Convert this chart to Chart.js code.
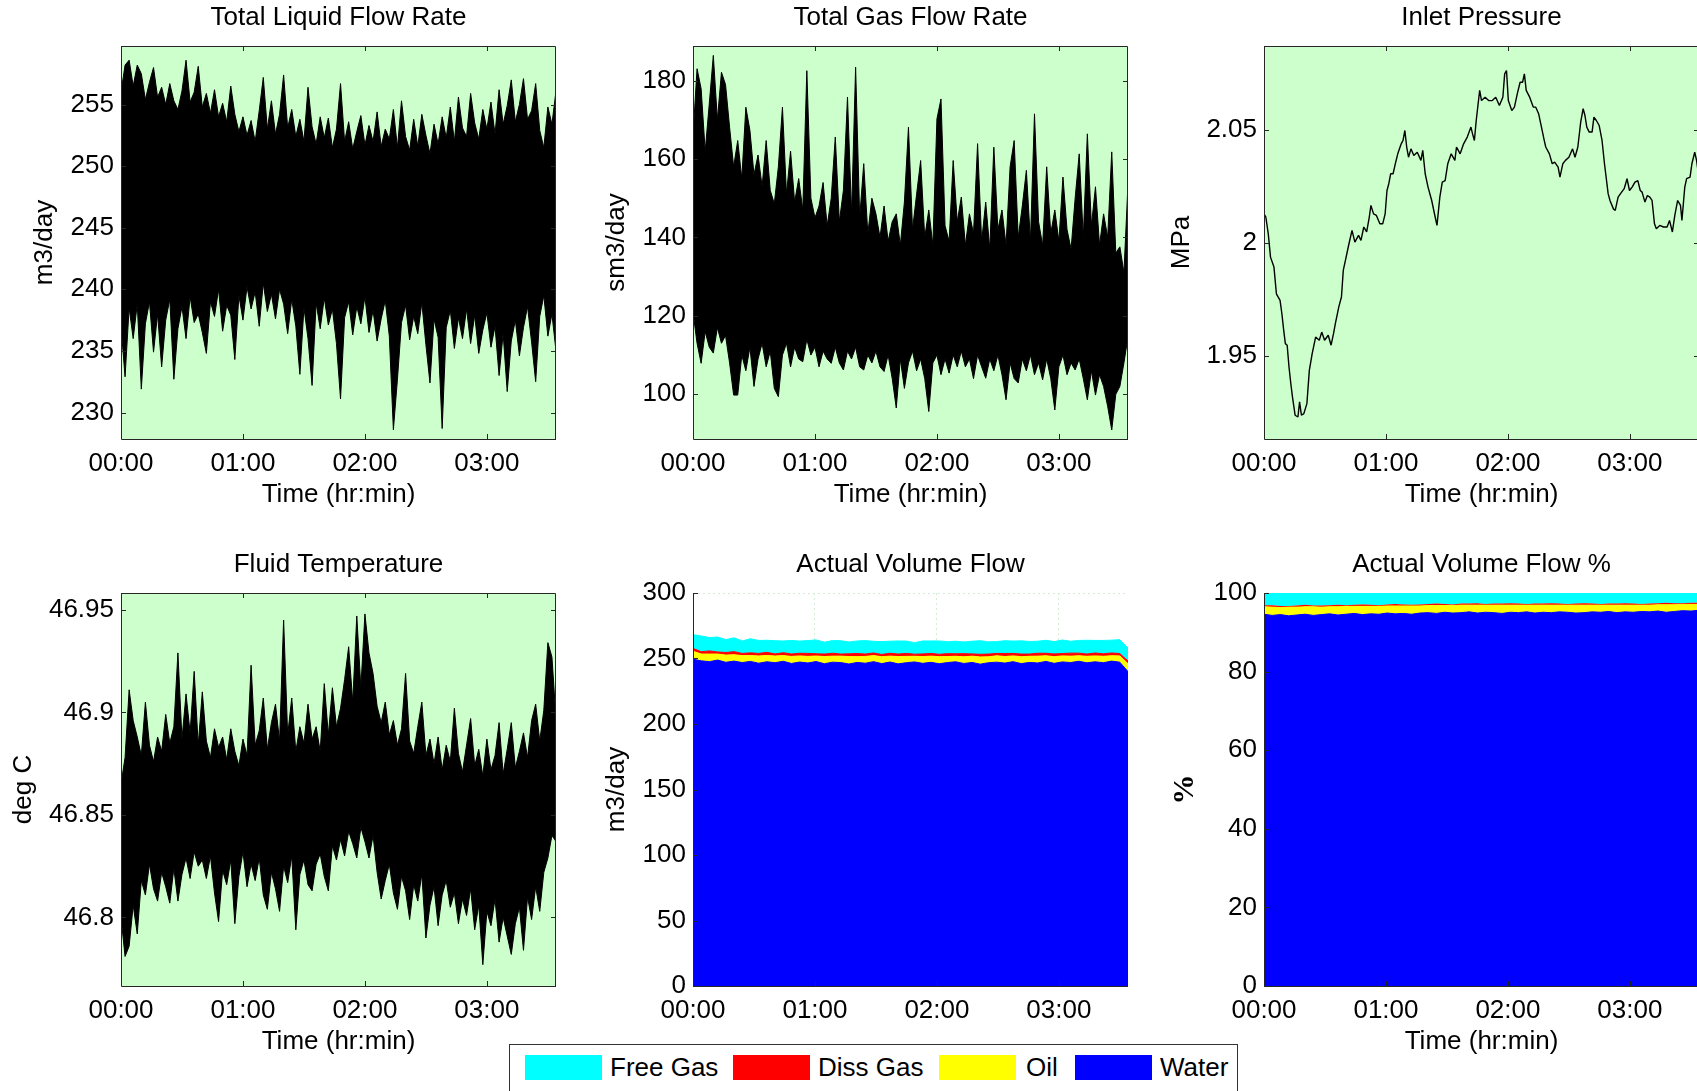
<!DOCTYPE html>
<html>
<head>
<meta charset="utf-8">
<script src="https://cdn.jsdelivr.net/npm/chart.js@4.4.1/dist/chart.umd.min.js"></script>
<style>
  body { margin: 0; width: 1697px; height: 1091px; overflow: hidden; background: #fff; position: relative;
         font-family: "Liberation Sans", Arial, sans-serif; }
  canvas { position: absolute; }
  #legend { position: absolute; left: 509px; top: 1044px; width: 727px; height: 60px; border: 1px solid #333;
            background: #fff; z-index: 2; }
  #legend .sw { position: absolute; top: 10px; width: 77px; height: 25px; }
  #legend .lb { position: absolute; top: 7px; font-size: 26px; line-height: 30px; color: #000; }
</style>
</head>
<body>
<div id="legend">
  <span class="sw" style="left:15px;background:#00ffff"></span><span class="lb" style="left:100px">Free Gas</span>
  <span class="sw" style="left:223px;background:#ff0000"></span><span class="lb" style="left:308px">Diss Gas</span>
  <span class="sw" style="left:429px;background:#ffff00"></span><span class="lb" style="left:516px">Oil</span>
  <span class="sw" style="left:565px;background:#0000ff"></span><span class="lb" style="left:650px">Water</span>
</div>
<script>
// time axis (minutes), labels every hour
const tEnd = 214;
const timeTicks = [0, 60, 120, 180];
const timeLabels = ['00:00', '01:00', '02:00', '03:00'];

// y tick values per panel
const liqTicks = [230, 235, 240, 245, 250, 255];
const gasTicks = [100, 120, 140, 160, 180];
const presTicks = [1.95, 2, 2.05];
const tempTicks = [46.8, 46.85, 46.9, 46.95];
const volTicks = [0, 50, 100, 150, 200, 250, 300];
const pctTicks = [0, 20, 40, 60, 80, 100];

// Total liquid flow rate, m3/day: upper / lower excursions every 2 min
const liqHigh = [256.0,258.2,258.6,256.5,258.2,257.5,255.4,256.8,258.0,255.6,
  256.4,255.0,256.7,255.3,254.6,256.1,258.6,255.2,256.0,258.1,
  254.8,255.9,254.3,256.2,254.0,255.1,253.6,256.5,254.2,252.8,
  254.0,252.5,253.7,252.0,254.5,257.2,253.0,255.3,252.6,254.2,
  257.4,253.1,254.6,252.4,253.8,252.0,256.4,253.2,251.8,254.0,
  252.3,253.9,251.5,253.0,256.7,252.0,253.6,251.4,252.8,254.1,
  251.7,253.3,252.0,254.4,251.6,253.0,252.2,254.6,251.5,255.3,
  252.4,251.3,253.8,251.6,254.2,252.5,251.0,253.4,251.8,254.0,
  252.3,254.8,252.0,255.6,253.1,252.4,255.9,253.5,252.2,254.6,
  253.0,255.2,252.6,256.2,253.4,254.9,257.0,253.6,255.0,257.1,
  253.8,254.5,256.7,252.9,251.5,254.8,253.4,256.1];
const liqLow = [237.0,232.9,238.5,236.0,238.8,231.9,237.2,239.0,234.9,238.0,
  233.7,237.5,239.2,232.7,236.8,238.6,236.0,239.4,237.3,238.0,
  236.5,234.8,239.0,237.8,240.0,236.6,238.7,237.9,234.3,239.5,
  237.5,240.2,238.4,239.8,237.0,240.5,238.2,239.6,237.6,240.0,
  238.8,236.4,239.2,237.0,233.1,238.5,236.0,232.2,238.9,236.8,
  239.3,237.1,238.4,235.6,231.1,237.7,239.0,236.3,238.6,237.2,
  239.4,236.5,238.3,235.8,237.6,239.1,236.2,228.6,232.7,237.3,
  238.7,235.9,237.8,236.4,238.9,235.5,232.4,237.6,236.1,228.7,
  236.9,238.3,235.2,237.7,236.0,238.4,235.6,237.9,234.8,236.7,
  238.1,235.3,237.0,233.0,236.4,231.7,235.8,237.5,234.6,236.9,
  238.6,235.7,232.5,237.8,239.5,236.2,238.0,235.0];

// Total gas flow rate, sm3/day
const gasHigh = [166,183,177.9,162,174,186.4,170,182.1,179,168.1,
  158,164.7,155,173.2,167.3,156,161,153,164.7,152,
  148.6,158,173.2,151,162,149,155,147,182.5,150,
  145,148,154,143,150,165.6,144,152,175.8,146,
  183.4,145,158.8,141,150,146,140,148,139,144,
  146,138,149,168.1,142,151,159.6,140,147,138,
  170.2,175.3,143,139,159.6,144,150.3,138,146,141,
  163.9,139,149,137,163,142,147,138,158,164.7,
  140,148,157.1,139,171.5,144,138,158,141,147,
  139,155.4,142,137,150,161.3,140,166.4,143,152.9,
  138,146,140,161.8,136,137.6,131,153.7];
const gasLow = [121,113,107.9,116,112,110.5,117,113,115,108,
  99.8,99.8,110,106,112,102,109,113,107,111,
  101.5,99.4,110,113,107,112,109,108.3,114,110,
  112,107,111,109,107.9,112,108,106.2,111,109,
  112,107,106.2,110,108,111,107,105.8,110,104,
  96.5,109,101.5,108,111,106,109,104,95.6,108,
  110,105,109,105.4,110,107,111,107,109,104,
  110,107,104.1,109,106,110,105,98.6,108,104,
  102.9,109,106,110,105,108,103.7,109,104,96,
  107,110,105,108,106.2,109,104,98.6,106,99.8,
  105,102,96.9,90.9,100,102,108,114.7];

// Inlet pressure, MPa (time in minutes)
const presMin = [0,0.9,2.1,3.2,4.9,6.1,7.9,8.8,9.6,10.5,
  11.4,12.3,13.2,14.0,15.3,16.7,17.5,18.4,19.6,21.1,
  22.3,23.7,25.4,27.2,28.4,29.8,31.6,33.0,34.2,35.1,
  36.8,38.1,39.0,40.4,41.8,43.3,44.7,46.5,47.7,49.1,
  50.5,51.8,52.6,53.9,55.3,57.0,58.4,59.6,60.5,61.4,
  62.3,63.5,64.6,65.8,67.5,68.4,69.3,70.2,71.1,72.3,
  73.7,75.4,77.2,78.1,79.3,80.7,82.5,84.2,85.1,86.5,
  87.7,89.1,90.4,92.1,93.9,94.7,96.5,98.2,100.0,101.8,
  102.6,103.5,104.4,106.1,107.0,108.8,110.5,112.3,114.0,115.8,
  117.5,118.4,119.3,120.2,121.9,123.2,124.6,126.0,127.2,128.1,
  129.0,130.7,132.5,133.7,135.1,136.5,137.7,138.6,140.4,141.8,
  143.0,144.7,145.6,147.0,148.3,150.0,151.8,153.0,154.4,155.8,
  157.0,157.9,158.8,160.0,161.4,162.3,163.5,164.9,166.3,167.5,
  169.3,170.2,171.9,172.8,174.2,175.4,177.2,178.6,179.8,181.1,
  182.5,183.9,185.1,186.0,187.4,188.6,189.8,190.9,192.1,193.0,
  194.7,196.5,198.3,199.5,200.9,202.1,203.5,204.9,205.6,207.0,
  207.9,209.6,210.5,211.9,212.8,213.7,214.0];
const presVal = [2.0129,2.0115,2.0041,1.9938,1.9894,1.9776,1.9747,1.9688,1.9622,1.9556,
  1.9549,1.9453,1.9379,1.9321,1.924,1.9232,1.9299,1.924,1.9247,1.9291,
  1.9438,1.9512,1.9585,1.9571,1.9607,1.9571,1.9593,1.9549,1.96,1.9644,
  1.9718,1.9762,1.9879,1.9938,1.9997,2.0056,2.0004,2.0034,2.0012,2.0071,
  2.0049,2.0115,2.0166,2.0129,2.0122,2.0085,2.0085,2.0129,2.0232,2.0262,
  2.0306,2.0306,2.035,2.0394,2.0438,2.0453,2.0497,2.0424,2.0379,2.0416,
  2.0387,2.0401,2.0365,2.0409,2.0306,2.0247,2.0188,2.0115,2.0078,2.0203,
  2.0269,2.0276,2.035,2.0394,2.0365,2.0424,2.0394,2.0438,2.0468,2.0512,
  2.0482,2.0453,2.0541,2.0674,2.0629,2.0644,2.0629,2.0629,2.0644,2.0607,
  2.0644,2.0747,2.0762,2.0629,2.0585,2.06,2.0659,2.071,2.071,2.0747,
  2.0674,2.0644,2.06,2.06,2.0571,2.0512,2.046,2.0424,2.0394,2.035,
  2.0357,2.0335,2.0291,2.035,2.0365,2.0379,2.0416,2.0379,2.0424,2.0534,
  2.0593,2.0563,2.0512,2.049,2.049,2.0556,2.0541,2.0519,2.0453,2.035,
  2.0218,2.0188,2.0151,2.0144,2.0203,2.0218,2.024,2.0284,2.0232,2.0247,
  2.0269,2.0276,2.0232,2.0225,2.0181,2.021,2.0203,2.0188,2.0085,2.0063,
  2.0078,2.0071,2.0071,2.01,2.0049,2.0122,2.0188,2.0166,2.01,2.0247,
  2.0284,2.0291,2.035,2.0401,2.0365,2.0306,2.031];

// Fluid temperature, deg C
const tempHigh = [46.865,46.878,46.911,46.896,46.888,46.879,46.905,46.884,46.876,46.888,
  46.881,46.899,46.885,46.893,46.929,46.887,46.909,46.890,46.920,46.884,
  46.910,46.886,46.878,46.892,46.883,46.888,46.877,46.892,46.881,46.874,
  46.887,46.879,46.923,46.884,46.891,46.907,46.882,46.895,46.904,46.886,
  46.945,46.889,46.907,46.881,46.893,46.885,46.904,46.887,46.893,46.881,
  46.914,46.889,46.912,46.893,46.902,46.916,46.932,46.905,46.947,46.912,
  46.948,46.929,46.919,46.903,46.895,46.905,46.889,46.896,46.884,46.892,
  46.919,46.886,46.880,46.893,46.905,46.879,46.887,46.875,46.888,46.872,
  46.884,46.876,46.902,46.880,46.871,46.884,46.897,46.874,46.882,46.869,
  46.887,46.872,46.879,46.895,46.870,46.882,46.895,46.873,46.881,46.890,
  46.878,46.896,46.904,46.886,46.901,46.934,46.927,46.897];
const tempLow = [46.800,46.781,46.786,46.806,46.792,46.818,46.811,46.826,46.814,46.808,
  46.822,46.815,46.807,46.824,46.808,46.821,46.829,46.819,46.832,46.825,
  46.828,46.819,46.830,46.812,46.798,46.823,46.816,46.828,46.797,46.820,
  46.832,46.815,46.826,46.818,46.829,46.811,46.804,46.822,46.814,46.803,
  46.825,46.817,46.830,46.794,46.821,46.828,46.816,46.813,46.826,46.831,
  46.820,46.813,46.835,46.828,46.838,46.830,46.842,46.836,46.829,46.844,
  46.837,46.829,46.840,46.822,46.809,46.818,46.826,46.812,46.804,46.820,
  46.813,46.799,46.816,46.808,46.821,46.790,46.806,46.815,46.796,46.811,
  46.818,46.805,46.812,46.797,46.809,46.801,46.814,46.794,46.806,46.777,
  46.803,46.796,46.809,46.788,46.800,46.791,46.782,46.797,46.805,46.784,
  46.810,46.799,46.815,46.803,46.822,46.829,46.840,46.837];

// Actual volume flow, m3/day (stacked)
const waterFlow = [249.5,248.2,247.6,248.8,247.1,248.0,246.9,247.8,246.4,247.5,
  246.8,247.9,246.2,247.3,246.6,247.7,246.0,247.2,246.9,245.8,
  247.0,246.4,247.6,246.1,247.3,245.9,246.8,247.4,246.3,247.1,
  246.0,246.9,247.5,246.2,247.0,245.7,246.8,247.2,246.5,247.6,
  246.1,247.0,246.6,247.8,246.3,247.4,246.9,247.9,246.7,247.5,
  246.8,248.0,247.2,240.0];
const oilFlow = [6.0,5.2,5.8,4.6,5.5,4.9,5.3,4.4,5.6,4.8,
  5.1,4.3,5.4,4.7,5.0,4.2,5.5,4.6,4.9,5.7,
  4.4,5.2,4.6,5.3,4.5,5.6,4.8,4.3,5.2,4.7,
  5.4,4.6,4.2,5.1,4.8,5.5,4.5,4.9,5.0,4.4,
  5.3,4.7,5.2,4.3,5.1,4.6,4.9,4.2,5.0,4.5,
  4.9,4.1,4.8,6.0];
const dissFlow = [2.2,1.8,2.4,1.6,2.0,2.3,1.7,2.1,1.9,2.4,
  1.6,2.2,1.8,2.0,2.3,1.7,1.9,2.2,1.6,2.1,
  2.4,1.8,2.0,1.7,2.2,1.9,2.3,1.6,2.0,2.1,
  1.8,2.2,1.9,2.4,1.7,2.0,2.1,1.8,2.3,1.9,
  2.0,1.7,2.2,1.9,2.1,1.8,2.3,2.0,1.7,2.2,
  1.9,2.1,1.8,2.0];
const freeFlow = [10.5,12.0,10.2,11.4,9.8,10.6,9.5,10.8,9.9,9.2,
  10.1,9.0,10.4,9.3,9.8,10.6,9.1,9.7,10.2,9.0,
  9.6,10.3,8.9,9.8,9.2,10.0,9.4,8.8,9.9,9.5,
  10.2,9.1,9.6,8.9,9.7,10.4,9.3,9.0,9.8,9.4,
  10.1,9.6,9.2,9.9,9.4,10.3,9.1,9.7,10.5,9.6,
  10.2,9.8,10.6,10.0];

// Actual volume flow, % (stacked)
const waterPct = [94.6,94.3,94.5,94.2,94.4,94.6,94.3,94.5,94.7,94.4,
  94.6,94.8,94.5,94.7,94.6,94.9,94.7,94.8,94.6,94.9,
  95.0,94.8,95.1,94.9,95.0,95.2,94.9,95.1,95.0,94.8,
  95.1,95.0,95.2,94.9,95.1,95.0,95.2,95.1,94.9,95.0,
  95.2,95.1,95.3,95.0,95.2,95.1,95.3,95.2,95.4,95.1,
  95.3,95.5,95.4,95.6];
const oilPct = [1.9,2.1,1.8,2.2,2.0,1.9,2.2,1.9,1.8,2.1,
  2.0,1.8,2.1,1.9,2.0,1.8,2.0,1.9,2.1,1.8,
  1.8,2.0,1.7,1.9,1.9,1.7,2.0,1.8,1.9,2.1,
  1.8,1.9,1.7,2.0,1.8,1.9,1.7,1.8,2.0,1.9,
  1.7,1.8,1.6,1.9,1.7,1.8,1.6,1.7,1.6,1.9,
  1.7,1.6,1.7,1.5];
const dissPct = [0.4,0.5,0.4,0.3,0.4,0.5,0.3,0.4,0.4,0.5,
  0.3,0.4,0.5,0.4,0.3,0.4,0.5,0.4,0.3,0.4,
  0.4,0.5,0.4,0.3,0.4,0.4,0.5,0.3,0.4,0.4,
  0.5,0.4,0.3,0.4,0.4,0.5,0.4,0.3,0.4,0.5,
  0.4,0.3,0.4,0.4,0.5,0.4,0.3,0.4,0.4,0.5,
  0.4,0.3,0.4,0.4];
const freePct = [3.5,3.4,3.6,3.6,3.5,3.4,3.5,3.5,3.4,3.3,
  3.4,3.3,3.2,3.3,3.4,3.2,3.1,3.2,3.3,3.2,
  3.1,3.0,3.1,3.2,3.0,2.9,2.9,3.1,3.0,3.0,
  2.9,3.0,3.1,3.0,3.0,2.9,3.0,3.1,3.0,2.9,
  3.0,3.1,3.0,3.0,2.9,3.0,3.1,3.0,2.9,2.8,
  2.9,2.9,2.8,2.8];

const phaseColors = { free: '#00ffff', diss: '#ff0000', oil: '#ffff00', water: '#0000ff' };
const bgGreen = '#ccffcc';

Chart.defaults.font.family = '"Liberation Sans", Arial, sans-serif';
Chart.defaults.color = '#000';
Chart.defaults.animation = false;

function series(vals) {
  const step = tEnd / (vals.length - 1);
  return vals.map((v, i) => ({ x: i * step, y: v }));
}

// noisy trace: black area between the upper and lower excursions
function noiseBand(high, low) {
  return [
    { data: series(high), borderColor: '#000', backgroundColor: '#000', borderWidth: 1, fill: '+1' },
    { data: series(low), borderColor: '#000', borderWidth: 1, fill: false }
  ];
}

// matlab-like axes: coloured background, box and inward ticks
const frame = {
  id: 'frame',
  beforeDraw(chart, args, o) {
    const a = chart.chartArea, ctx = chart.ctx;
    ctx.save();
    ctx.fillStyle = o.bg;
    ctx.fillRect(a.left, a.top, a.right - a.left, a.bottom - a.top);
    ctx.restore();
  },
  afterDatasetsDraw(chart, args, o) {
    const a = chart.chartArea, ctx = chart.ctx;
    const xs = chart.scales.x, ys = chart.scales.y;
    const len = 5;
    ctx.save();
    ctx.strokeStyle = '#262626';
    ctx.lineWidth = 1;
    ctx.beginPath();
    ctx.moveTo(a.left + 0.5, a.top);
    ctx.lineTo(a.left + 0.5, a.bottom + 0.5);
    ctx.lineTo(a.right, a.bottom + 0.5);
    if (o.box) {
      ctx.moveTo(a.left, a.top + 0.5);
      ctx.lineTo(a.right - 0.5, a.top + 0.5);
      ctx.lineTo(a.right - 0.5, a.bottom);
    }
    xs.ticks.forEach(t => {
      const px = Math.round(xs.getPixelForValue(t.value)) + 0.5;
      ctx.moveTo(px, a.bottom); ctx.lineTo(px, a.bottom - len);
      if (o.box) { ctx.moveTo(px, a.top); ctx.lineTo(px, a.top + len); }
    });
    ys.ticks.forEach(t => {
      const py = Math.round(ys.getPixelForValue(t.value)) + 0.5;
      ctx.moveTo(a.left, py); ctx.lineTo(a.left + len, py);
      if (o.box) { ctx.moveTo(a.right, py); ctx.lineTo(a.right - len, py); }
    });
    ctx.stroke();
    ctx.restore();
  }
};

const font26 = { size: 26, lineHeight: 1 };

function makePanel(p) {
  const cv = document.createElement('canvas');
  cv.width = 560;
  cv.height = 519;
  cv.style.left = p.left + 'px';
  cv.style.top = p.top + 'px';
  document.body.appendChild(cv);

  return new Chart(cv, {
    type: 'line',
    data: { datasets: p.datasets },
    options: {
      responsive: false,
      devicePixelRatio: 1,
      layout: { padding: { left: 0, right: 4, top: 0, bottom: 0 } },
      elements: { point: { radius: 0 }, line: { tension: 0, borderJoinStyle: 'bevel' } },
      plugins: {
        legend: { display: false },
        tooltip: { enabled: false },
        title: {
          display: true, text: p.title, fullSize: false,
          font: { size: 26, weight: 'normal', lineHeight: 1 },
          padding: { top: 5, bottom: 15 }
        },
        frame: { bg: p.bg || bgGreen, box: p.box !== false }
      },
      scales: {
        x: {
          type: 'linear', min: 0, max: tEnd,
          afterBuildTicks: s => { s.ticks = timeTicks.map(v => ({ value: v })); },
          ticks: {
            padding: 12, font: font26, maxRotation: 0, autoSkip: false,
            callback: (v, i) => timeLabels[i]
          },
          grid: { display: !!p.grid, color: '#d4ecd4', drawTicks: false },
          border: { display: false, dash: [2, 3] },
          title: { display: p.xTitle !== false, text: 'Time (hr:min)', font: font26, padding: { top: 0, bottom: 11 } },
          afterFit: s => { s.height = 80; }
        },
        y: {
          type: 'linear', min: p.yMin, max: p.yMax, stacked: !!p.stacked,
          afterBuildTicks: s => { s.ticks = p.yTicks.map(v => ({ value: v })); },
          ticks: {
            padding: 7, font: font26, autoSkip: false,
            callback: v => String(+v.toFixed(4))
          },
          grid: { display: !!p.grid, color: '#d4ecd4', drawTicks: false },
          border: { display: false, dash: [2, 3] },
          title: { display: true, text: p.yTitle, font: p.yFont || font26, padding: { top: p.yPad, bottom: 0 } },
          afterFit: s => { s.width = 121; }
        }
      }
    },
    plugins: [frame]
  });
}

function stackedSet(label, vals, color, fill, width) {
  return { label: label, data: series(vals), borderColor: color, backgroundColor: color,
           borderWidth: width === undefined ? 1 : width, fill: fill };
}

makePanel({
  left: 0, top: 0, title: 'Total Liquid Flow Rate', yTitle: 'm3/day', yPad: 32,
  yMin: 227.85, yMax: 259.75, yTicks: liqTicks,
  datasets: noiseBand(liqHigh, liqLow)
});

makePanel({
  left: 572, top: 0, title: 'Total Gas Flow Rate', yTitle: 'sm3/day', yPad: 32,
  yMin: 88.6, yMax: 188.8, yTicks: gasTicks,
  datasets: noiseBand(gasHigh, gasLow)
});

makePanel({
  left: 1143, top: 0, title: 'Inlet Pressure', yTitle: 'MPa', yPad: 26,
  yMin: 1.9135, yMax: 2.087, yTicks: presTicks,
  datasets: [{ data: presMin.map((m, i) => ({ x: m, y: presVal[i] })), borderColor: '#000', borderWidth: 1.4, fill: false }]
});

makePanel({
  left: 0, top: 547, title: 'Fluid Temperature', yTitle: 'deg C', yPad: 11,
  yMin: 46.7666, yMax: 46.9582, yTicks: tempTicks,
  datasets: noiseBand(tempHigh, tempLow)
});

makePanel({
  left: 572, top: 547, title: 'Actual Volume Flow', yTitle: 'm3/day', yPad: 32,
  yMin: 0, yMax: 300, yTicks: volTicks, stacked: true, bg: '#ffffff', box: false, grid: true, xTitle: false,
  datasets: [
    stackedSet('Water', waterFlow, phaseColors.water, 'origin'),
    stackedSet('Oil', oilFlow, phaseColors.oil, '-1'),
    stackedSet('Diss Gas', dissFlow, phaseColors.diss, '-1'),
    stackedSet('Free Gas', freeFlow, phaseColors.free, '-1')
  ]
});

makePanel({
  left: 1143, top: 547, title: 'Actual Volume Flow %', yTitle: '%', yPad: 27,
  yFont: { size: 30, weight: 'bold', family: '"Liberation Serif", serif', lineHeight: 1 },
  yMin: 0, yMax: 100, yTicks: pctTicks, stacked: true, box: false,
  datasets: [
    stackedSet('Water', waterPct, phaseColors.water, 'origin'),
    stackedSet('Oil', oilPct, phaseColors.oil, '-1'),
    stackedSet('Diss Gas', dissPct, phaseColors.diss, '-1', 0),
    stackedSet('Free Gas', freePct, phaseColors.free, '-1')
  ]
});
</script>
</body>
</html>
